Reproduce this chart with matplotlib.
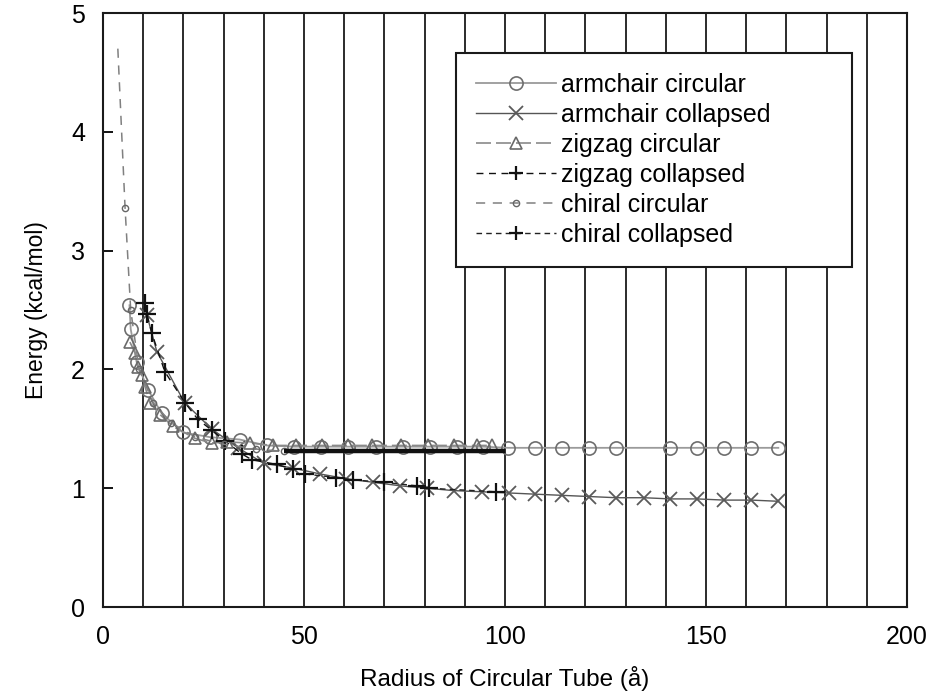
import matplotlib
matplotlib.use("Agg")
import matplotlib.pyplot as plt

plt.rcParams['font.family'] = ['Liberation Sans', 'DejaVu Sans']

# armchair tubes, circular cross-section
ac_x = [6.6, 6.9, 8.4, 11.2, 14.6, 19.9, 26.6, 34.0, 40.7, 47.5, 54.2, 61.0, 67.8,
        74.6, 81.4, 88.0, 94.5, 100.8, 107.5, 114.2, 121.0, 127.7, 141.1, 147.8,
        154.6, 161.3, 168.0]
ac_y = [2.54, 2.34, 2.06, 1.83, 1.63, 1.47, 1.43, 1.41, 1.36, 1.35, 1.35, 1.35, 1.35,
        1.35, 1.35, 1.35, 1.35, 1.34, 1.34, 1.34, 1.34, 1.34, 1.34, 1.34,
        1.34, 1.34, 1.34]

# armchair tubes, collapsed
acol_x = [10.9, 13.4, 20.3, 27.0, 33.6, 40.0, 47.3, 54.0, 60.5, 67.2, 74.0, 80.6,
          87.2, 94.3, 101.0, 107.5, 114.2, 121.0, 127.7, 134.6, 141.1, 147.8,
          154.6, 161.3, 168.0]
acol_y = [2.46, 2.15, 1.72, 1.50, 1.34, 1.21, 1.17, 1.12, 1.08, 1.05, 1.02, 1.00,
          0.98, 0.97, 0.96, 0.95, 0.94, 0.93, 0.92, 0.92, 0.91, 0.91,
          0.90, 0.90, 0.89]

# zigzag tubes, circular
zc_x = [6.7, 8.0, 8.7, 9.6, 10.5, 11.7, 14.2, 17.4, 22.9, 27.0, 30.8, 36.6, 42.3,
        48.0, 54.5, 61.0, 67.0, 74.2, 80.8, 87.2, 93.0, 96.8]
zc_y = [2.23, 2.14, 2.02, 1.95, 1.85, 1.72, 1.62, 1.52, 1.42, 1.38, 1.39, 1.38, 1.36,
        1.36, 1.36, 1.36, 1.36, 1.36, 1.36, 1.36, 1.36, 1.36]

# zigzag tubes, collapsed
zcol_x = [10.4, 10.9, 12.1, 15.4, 20.4, 23.6, 27.0, 30.3, 34.5, 37.0, 43.2, 47.3]
zcol_y = [2.56, 2.47, 2.31, 1.98, 1.72, 1.58, 1.49, 1.40, 1.29, 1.24, 1.20, 1.16]

# chiral tubes, circular (plateau from 45 on)
cc_x = [3.7, 5.5, 6.9, 9.0, 12.5, 17.0, 23.0, 30.0, 38.0,
        45, 50, 55, 60, 65, 70, 75, 80, 85, 90, 95, 100]
cc_y = [4.70, 3.36, 2.50, 2.00, 1.72, 1.55, 1.43, 1.37, 1.33,
        1.31, 1.31, 1.31, 1.31, 1.31, 1.31, 1.31, 1.31, 1.31, 1.31, 1.31, 1.31]
cc_split = 9

# chiral tubes, collapsed
ccol_x = [50.2, 58.0, 62.2, 70.0, 78.0, 81.0, 97.8]
ccol_y = [1.12, 1.09, 1.07, 1.05, 1.02, 1.00, 0.97]

fig = plt.figure(figsize=(9.42, 6.92), dpi=100)
ax = fig.add_axes([0.1093, 0.1228, 0.8535, 0.8584])

ax.plot(ac_x, ac_y, color='#9a9a9a', lw=1.3, marker='o', ms=9.5, mfc='none',
        mec='#6e6e6e', mew=1.2, label='armchair circular')
ax.plot(acol_x, acol_y, color='#555555', lw=1.0, marker='x', ms=9.5,
        mec='#5a5a5a', mew=1.3, label='armchair collapsed')
ax.plot(zc_x, zc_y, color='#8a8a8a', lw=1.2, dashes=(9, 3), marker='^', ms=9,
        mfc='none', mec='#6a6a6a', mew=1.2, label='zigzag circular')
ax.plot(zcol_x, zcol_y, color='#111111', lw=1.0, dashes=(5, 4), marker='+', ms=13,
        mec='#111111', mew=1.6, label='zigzag collapsed')
ax.plot(cc_x[:cc_split + 1], cc_y[:cc_split + 1], color='#808080', lw=1.1,
        dashes=(6, 5), marker='o', ms=4.5, mfc='none', mec='#666666', mew=1.0,
        markevery=list(range(1, cc_split + 1)), label='chiral circular')
ax.plot(cc_x[cc_split:], cc_y[cc_split:], color='#111111', lw=3.2,
        solid_capstyle='butt')
ax.plot(ccol_x, ccol_y, color='#222222', lw=1.0, dashes=(4, 3), marker='+', ms=13,
        mec='#111111', mew=1.6, label='chiral collapsed')

ax.set_xlim(0, 200)
ax.set_ylim(0, 5)
ax.set_xticks([0, 50, 100, 150, 200])
ax.set_xticks(range(0, 201, 10), minor=True)
ax.set_yticks(range(0, 6))
ax.grid(True, axis='x', which='both', color='#1a1a1a', lw=1.3)
ax.set_axisbelow(True)
ax.tick_params(axis='y', direction='in', length=7, width=1.3, labelsize=18, pad=13)
ax.tick_params(axis='x', which='both', length=0, labelsize=18, pad=13)
for s in ax.spines.values():
    s.set_linewidth(1.5)
    s.set_color('#1a1a1a')

ax.set_xlabel('Radius of Circular Tube (å)', fontsize=17.5, labelpad=12)
ax.set_ylabel('Energy (kcal/mol)', fontsize=16.5, labelpad=16.5)

leg = ax.legend(loc='upper left', bbox_to_anchor=(0.439, 0.577, 0.493, 0.356),
                mode='expand', borderaxespad=0,
                fontsize=18, handlelength=3.2, handletextpad=0.2, labelspacing=0.24,
                borderpad=0.8, fancybox=False, framealpha=1, edgecolor='#1a1a1a')
leg.get_frame().set_linewidth(1.5)
leg.get_frame().set_boxstyle('square', pad=0)
for h in leg.legend_handles:
    h.set_markersize(min(h.get_markersize(), 10))

fig.savefig('out.png', dpi=100)
